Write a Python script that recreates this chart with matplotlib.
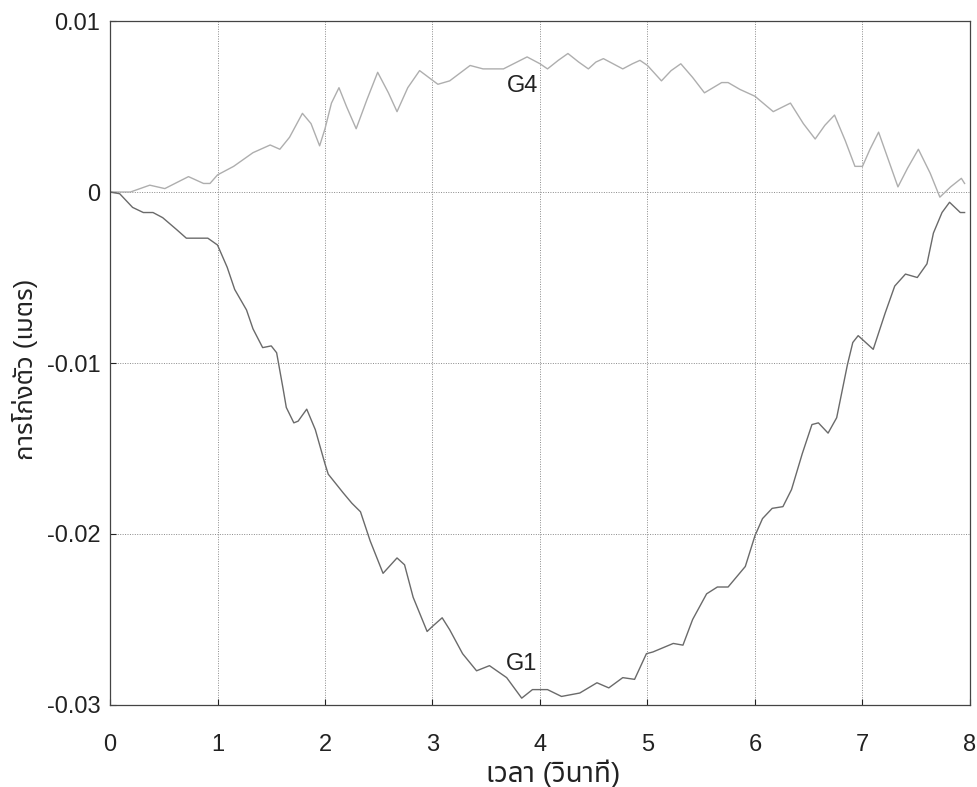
import matplotlib
matplotlib.use("Agg")
import matplotlib.pyplot as plt
from matplotlib import font_manager

# G4 (top curve)
g4_t = [0, 0.19, 0.37, 0.51, 0.73, 0.87, 0.93, 1.0, 1.15, 1.33, 1.49, 1.58, 1.67, 1.79,
        1.87, 1.95, 2.0, 2.06, 2.13, 2.2, 2.29, 2.39, 2.49, 2.59, 2.67, 2.77, 2.88,
        3.05, 3.16, 3.35, 3.47, 3.66, 3.88, 4.0, 4.07, 4.17, 4.26, 4.36, 4.45, 4.52,
        4.59, 4.68, 4.77, 4.86, 4.93, 5.0, 5.13, 5.22, 5.31, 5.42, 5.53, 5.69, 5.75,
        5.86, 6.0, 6.17, 6.33, 6.45, 6.56, 6.65, 6.74, 6.84, 6.93, 7.0, 7.07, 7.15,
        7.24, 7.33, 7.42, 7.52, 7.63, 7.72, 7.82, 7.92, 7.95]
g4_y = [0, 0.0, 0.0004, 0.0002, 0.0009, 0.0005, 0.0005, 0.001, 0.0015, 0.0023, 0.00275,
        0.0025, 0.0032, 0.0046, 0.004, 0.0027, 0.0037, 0.0052, 0.0061, 0.005, 0.0037,
        0.0054, 0.007, 0.0058, 0.0047, 0.0061, 0.0071, 0.0063, 0.0065, 0.0074, 0.0072,
        0.0072, 0.0079, 0.0075, 0.0072, 0.0077, 0.0081, 0.0076, 0.0072, 0.0076, 0.0078,
        0.0075, 0.0072, 0.0075, 0.0077, 0.0074, 0.0065, 0.0071, 0.0075, 0.0067, 0.0058,
        0.0064, 0.0064, 0.006, 0.0056, 0.0047, 0.0052, 0.004, 0.0031, 0.0039, 0.0045,
        0.003, 0.0015, 0.0015, 0.0025, 0.0035, 0.0019, 0.0003, 0.0014, 0.0025, 0.0011,
        -0.0003, 0.0003, 0.0008, 0.0005]

# G1 (bottom curve)
g1_t = [0, 0.09, 0.21, 0.31, 0.4, 0.49, 0.62, 0.71, 0.91, 1.0, 1.09, 1.16, 1.27, 1.33,
        1.42, 1.5, 1.55, 1.61, 1.64, 1.71, 1.75, 1.83, 1.91, 2.0, 2.03, 2.17, 2.25,
        2.33, 2.42, 2.54, 2.67, 2.74, 2.82, 2.95, 3.0, 3.09, 3.16, 3.28, 3.41, 3.53,
        3.69, 3.83, 3.93, 4.07, 4.2, 4.37, 4.53, 4.64, 4.77, 4.88, 4.99, 5.05, 5.24,
        5.33, 5.42, 5.55, 5.65, 5.75, 5.91, 6.0, 6.07, 6.16, 6.26, 6.34, 6.44, 6.53,
        6.59, 6.68, 6.76, 6.86, 6.91, 6.96, 7.1, 7.21, 7.3, 7.4, 7.51, 7.6, 7.66, 7.74,
        7.81, 7.91, 7.95]
g1_y = [0, -0.0001, -0.0009, -0.0012, -0.0012, -0.0015, -0.0022, -0.0027, -0.0027,
        -0.0031, -0.0044, -0.0057, -0.0069, -0.008, -0.0091, -0.009, -0.0094, -0.0115,
        -0.0126, -0.0135, -0.0134, -0.0127, -0.0139, -0.0159, -0.0165, -0.0176, -0.0182,
        -0.0187, -0.0204, -0.0223, -0.0214, -0.0218, -0.0237, -0.0257, -0.0254, -0.0249,
        -0.0256, -0.027, -0.028, -0.0277, -0.0284, -0.0296, -0.0291, -0.0291, -0.0295,
        -0.0293, -0.0287, -0.029, -0.0284, -0.0285, -0.027, -0.0269, -0.0264, -0.0265,
        -0.025, -0.0235, -0.0231, -0.0231, -0.0219, -0.0201, -0.0191, -0.0185, -0.0184,
        -0.0174, -0.0153, -0.0136, -0.0135, -0.0141, -0.0132, -0.0101, -0.0088, -0.0084,
        -0.0092, -0.0071, -0.0055, -0.0048, -0.005, -0.0042, -0.0024, -0.0012, -0.0006,
        -0.0012, -0.0012]

xticks = [0, 1, 2, 3, 4, 5, 6, 7, 8]
yticks = [-0.03, -0.02, -0.01, 0, 0.01]
ytick_labels = ["-0.03", "-0.02", "-0.01", "0", "0.01"]

# pick a Thai font that is installed, Latin text stays in Liberation Sans
installed = {f.name for f in font_manager.fontManager.ttflist}
thai_font = next((n for n in ["Noto Sans Thai", "Sarabun", "Loma", "Garuda", "Tlwg Typo",
                              "Athiti", "FreeSerif"] if n in installed), "DejaVu Sans")
plt.rcParams["font.family"] = ["Liberation Sans", thai_font, "DejaVu Sans"]

fig = plt.figure(figsize=(9.77, 7.87), dpi=100)
ax = fig.add_axes([0.1126, 0.1042, 0.8802, 0.8691])

ax.plot(g4_t, g4_y, color="#aeaeae", lw=1.0)
ax.plot(g1_t, g1_y, color="#6a6a6a", lw=1.0)

ax.set_xlim(0, 8)
ax.set_ylim(-0.03, 0.01)
ax.set_xticks(xticks)
ax.set_yticks(yticks)
ax.set_yticklabels(ytick_labels)
ax.tick_params(direction="in", length=4, labelsize=17, colors="#222222")
ax.tick_params(axis="x", pad=21)
ax.tick_params(axis="y", pad=7)
ax.grid(True, color="#8a8a8a", linestyle=(0, (1, 1.5)), linewidth=0.7)
for s in ax.spines.values():
    s.set_color("#444444")
    s.set_linewidth(0.9)

ax.text(3.84, 0.0062, "G4", fontsize=17, color="#222222", ha="center", va="center")
ax.text(3.83, -0.0276, "G1", fontsize=17, color="#222222", ha="center", va="center")

ax.set_xlabel("เวลา (วินาที)", fontsize=20, color="#222222", va="center")
ax.xaxis.set_label_coords(0.515, -0.101)
ax.set_ylabel("การโก่งตัว (เมตร)", fontsize=18.5, color="#222222", va="center")
ax.yaxis.set_label_coords(-0.099, 0.49)

fig.savefig("out.png", dpi=100)
